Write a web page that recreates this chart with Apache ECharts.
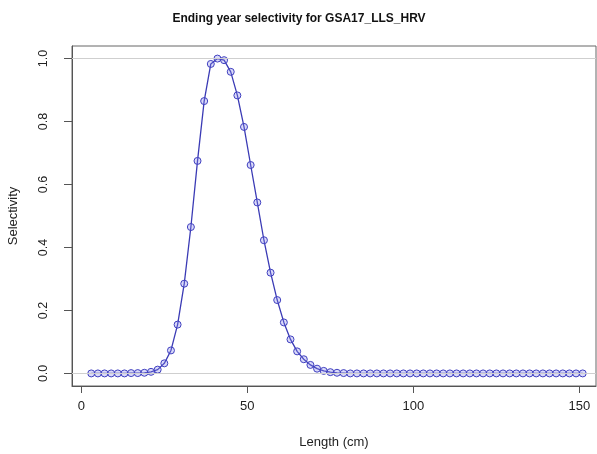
<!DOCTYPE html>
<html>
<head>
<meta charset="utf-8">
<script src="https://cdn.jsdelivr.net/npm/echarts@6/dist/echarts.min.js"></script>
<style>html,body{margin:0;padding:0;background:#fff}#c{width:597px;height:454px}</style>
</head>
<body>
<div id="c"></div>
<script>
var lengths = [];
for (var L = 3; L <= 151; L += 2) lengths.push(L);
var selectivity = [
  0, 0, 0, 0, 0, 0,          // 3-13
  0.001, 0.001, 0.002, 0.005, 0.012, 0.032, 0.073, 0.155, // 15-29
  0.285, 0.465, 0.675, 0.865, 0.983, 1.0, 0.995, 0.958,   // 31-45
  0.883, 0.783, 0.662, 0.543, 0.423, 0.32, 0.233, 0.162,   // 47-61
  0.108, 0.07, 0.045, 0.027, 0.015, 0.008, 0.004, 0.002, 0.001, // 63-79
  0, 0, 0, 0, 0, 0, 0, 0, 0, 0,  // 81-99
  0, 0, 0, 0, 0, 0, 0, 0, 0, 0,  // 101-119
  0, 0, 0, 0, 0, 0, 0, 0, 0, 0,  // 121-139
  0, 0, 0, 0, 0, 0               // 141-151
];
var xTicks = [0, 50, 100, 150];
var yTicks = [0.0, 0.2, 0.4, 0.6, 0.8, 1.0];
var refLines = [0, 1];
var titleText = 'Ending year selectivity for GSA17_LLS_HRV';
var xName = 'Length (cm)';
var yName = 'Selectivity';

var data = lengths.map(function (x, i) { return [x, selectivity[i]]; });
var chart = echarts.init(document.getElementById('c'), null, {renderer: 'canvas'});
var font = 'Liberation Sans, Arial, sans-serif';
chart.setOption({
  animation: false,
  backgroundColor: '#fff',
  title: {
    text: titleText, left: 294, top: 8, textAlign: 'center',
    textStyle: {fontFamily: font, fontSize: 12, fontWeight: 'bold', color: '#111'}
  },
  grid: {left: 72, right: 1, top: 46, bottom: 68, show: true, borderColor: '#666', borderWidth: 1,
         containLabel: false, outerBoundsMode: 'none'},
  xAxis: {
    type: 'value', min: -2.8, max: 155,
    name: xName, nameLocation: 'middle', nameGap: 50,
    nameTextStyle: {fontFamily: font, fontSize: 13, color: '#222'},
    axisLine: {show: true, onZero: false, lineStyle: {color: '#555'}},
    axisTick: {show: true, inside: false, length: 7, customValues: xTicks, lineStyle: {color: '#555'}},
    axisLabel: {customValues: xTicks, margin: 14, fontFamily: font, fontSize: 13, color: '#222'},
    splitLine: {show: false}
  },
  yAxis: {
    type: 'value', min: -0.04, max: 1.04,
    name: yName, nameLocation: 'middle', nameGap: 52, nameRotate: 90,
    nameTextStyle: {fontFamily: font, fontSize: 13, color: '#222'},
    axisLine: {show: true, onZero: false, lineStyle: {color: '#555'}},
    axisTick: {show: true, inside: false, length: 8, customValues: yTicks, lineStyle: {color: '#555'}},
    axisLabel: {
      customValues: yTicks, rotate: 90, margin: 22, fontFamily: font, fontSize: 12.5, color: '#222',
      formatter: function (v) { return v.toFixed(1); }
    },
    splitLine: {show: false}
  },
  series: [{
    type: 'line', data: data,
    symbol: 'circle', symbolSize: 7, showAllSymbol: true,
    lineStyle: {color: '#3b3bb5', width: 1.3},
    itemStyle: {color: 'rgba(130,130,235,0.3)', borderColor: '#4040c0', borderWidth: 1},
    markLine: {
      silent: true, symbol: 'none', label: {show: false},
      lineStyle: {color: '#cfcfcf', type: 'solid', width: 1},
      data: refLines.map(function (v) { return {yAxis: v}; })
    },
    z: 3
  }]
});
</script>
</body>
</html>
